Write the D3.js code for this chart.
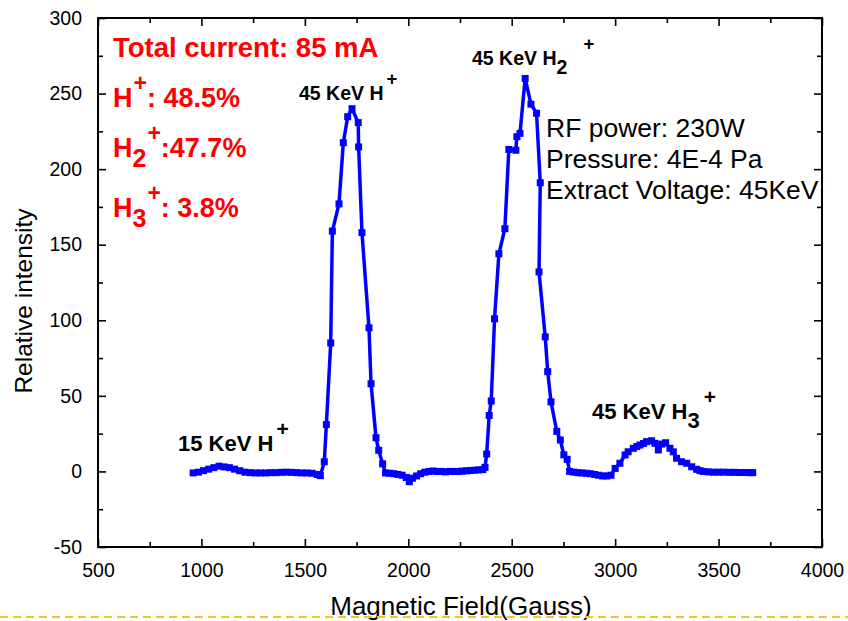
<!DOCTYPE html>
<html>
<head>
<meta charset="utf-8">
<script src="https://cdn.jsdelivr.net/npm/d3@7"></script>
<style>
  html, body { margin: 0; padding: 0; background: #fff; }
  svg { display: block; }
  text { font-family: Arial, "Liberation Sans", Helvetica, sans-serif; }
</style>
</head>
<body>
<svg id="chart" width="848" height="621"></svg>
<script>
// Magnetic field scan (Gauss) and measured relative beam intensity
const field = [
  960, 985, 1010, 1035, 1060, 1085, 1110, 1135, 1160, 1185, 1210, 1235, 1260, 1285, 1310,
  1335, 1360, 1385, 1410, 1435, 1460, 1485, 1510, 1535, 1560, 1575,
  1594, 1604, 1625, 1633, 1665, 1686, 1707, 1728, 1758, 1760, 1776, 1810, 1820, 1844, 1857, 1876,
  1890, 1910, 1930, 1950, 1970, 1990, 2005, 2020, 2040, 2060, 2080, 2100, 2120, 2140, 2160,
  2180, 2200, 2220, 2240, 2260, 2280, 2300, 2320, 2340, 2360, 2371,
  2379, 2391, 2401, 2417, 2438, 2467, 2486, 2520, 2525, 2540, 2565, 2593, 2620, 2638, 2632,
  2662, 2674, 2690, 2718, 2735, 2752, 2768, 2780,
  2800, 2820, 2840, 2860, 2880, 2900, 2920, 2940, 2960, 2980, 3000, 3023, 3048, 3063, 3088,
  3105, 3120, 3137, 3152, 3176, 3192, 3209, 3225, 3244, 3265, 3281, 3297, 3321, 3346, 3370,
  3394, 3410, 3426, 3450, 3475, 3500, 3525, 3550, 3575, 3600, 3625, 3650, 3665
];
const intensity = [
  -1, -0.5, 0.5, 1.5, 2.5, 3.5, 3, 2.5, 1.5, 0.5, -0.5, -0.8, -1, -1, -1,
  -0.8, -0.8, -0.6, -0.5, -0.6, -0.8, -1, -1, -1.2, -2, -2.8,
  6.4, 31, 85, 159, 177, 217.5, 234.7, 240, 230.8, 214.7, 158, 95, 58, 22.3, 14, 5,
  -1, -1.2, -1.5, -2, -2.5, -4, -6.8, -4.5, -3, -1.5, -0.5, 0, 0.3, 0, 0,
  -0.3, 0, 0, 0, 0.2, 0.4, 0.6, 0.8, 1, 1.2, 2.7,
  11.5, 37, 46.6, 101, 144, 160.6, 213, 212.5, 221.5, 223.7, 260, 243, 237, 191, 132,
  89, 66, 46, 26.5, 20.8, 11, 8, 0,
  -0.5, -0.8, -1, -1.2, -1.5, -2, -2.5, -3, -3, -2.5, 2, 5.4, 10.9, 13, 15.3,
  16.5, 17.5, 18.5, 19.7, 20.3, 18.6, 14.2, 18.1, 19, 15.3, 13, 8.7, 6.4, 5.4, 3.1,
  1.4, 0.5, 0, -0.3, -0.5, -0.5, -0.5, -0.6, -0.6, -0.7, -0.7, -0.8, -0.8
];

// Axis ranges and tick values
const xDomain = [500, 4000];
const yDomain = [-50, 300];
const xMajorTicks = [500, 1000, 1500, 2000, 2500, 3000, 3500, 4000];
const xMinorTicks = [750, 1250, 1750, 2250, 2750, 3250, 3750];
const yMajorTicks = [-50, 0, 50, 100, 150, 200, 250, 300];
const yMinorTicks = [-25, 25, 75, 125, 175, 225, 275];

// Text annotations
const xTitle = "Magnetic Field(Gauss)";
const yTitle = "Relative intensity";
const conditions = ["RF power: 230W", "Pressure: 4E-4 Pa", "Extract Voltage: 45KeV"];
const totalCurrent = "Total current: 85 mA";
const fractions = [
  { sub: "", value: ": 48.5%" },
  { sub: "2", value: ":47.7%" },
  { sub: "3", value: ": 3.8%" }
];
const peakLabels = [
  { text: "15 KeV H", sub: "", x: 178, y: 451, size: 22, plusDx: 3 },
  { text: "45 KeV H", sub: "", x: 299, y: 100, size: 19.5, plusDx: 3 },
  { text: "45 KeV H", sub: "2", x: 472, y: 65, size: 19.5, plusDx: 16 },
  { text: "45 KeV H", sub: "3", x: 592, y: 419, size: 22, plusDx: 4 }
];

const W = 848, H = 621;
const margin = { top: 18, right: 26, bottom: 74, left: 98 };
const iw = W - margin.left - margin.right;
const ih = H - margin.top - margin.bottom;

const svg = d3.select("#chart");
const g = svg.append("g").attr("transform", `translate(${margin.left},${margin.top})`);

const x = d3.scaleLinear().domain(xDomain).range([0, iw]);
const y = d3.scaleLinear().domain(yDomain).range([ih, 0]);
const plain = d => String(d);

function styleAxis(sel) {
  sel.select(".domain").remove();
  sel.selectAll(".tick line").attr("stroke", "#000").attr("stroke-width", 1.6);
  sel.selectAll(".tick text").attr("fill", "#000").style("font-size", "19.5px")
    .style("font-family", "Arial, 'Liberation Sans', sans-serif");
}

// Bottom axis with labels, ticks pointing inward
g.append("g").attr("transform", `translate(0,${ih})`)
  .call(d3.axisBottom(x).tickValues(xMajorTicks).tickSize(-8).tickPadding(16).tickFormat(plain))
  .call(styleAxis);
g.append("g").attr("transform", `translate(0,${ih})`)
  .call(d3.axisBottom(x).tickValues(xMinorTicks).tickSize(-5).tickFormat(""))
  .call(styleAxis);
// Top axis, ticks only
g.append("g")
  .call(d3.axisTop(x).tickValues(xMajorTicks).tickSize(-8).tickFormat(""))
  .call(styleAxis);
g.append("g")
  .call(d3.axisTop(x).tickValues(xMinorTicks).tickSize(-5).tickFormat(""))
  .call(styleAxis);
// Left axis with labels
g.append("g")
  .call(d3.axisLeft(y).tickValues(yMajorTicks).tickSize(-8).tickPadding(16).tickFormat(plain))
  .call(styleAxis);
g.append("g")
  .call(d3.axisLeft(y).tickValues(yMinorTicks).tickSize(-5).tickFormat(""))
  .call(styleAxis);
// Right axis, ticks only
g.append("g").attr("transform", `translate(${iw},0)`)
  .call(d3.axisRight(y).tickValues(yMajorTicks).tickSize(-8).tickFormat(""))
  .call(styleAxis);
g.append("g").attr("transform", `translate(${iw},0)`)
  .call(d3.axisRight(y).tickValues(yMinorTicks).tickSize(-5).tickFormat(""))
  .call(styleAxis);

// Plot frame
g.append("rect").attr("x", 0).attr("y", 0).attr("width", iw).attr("height", ih)
  .attr("fill", "none").attr("stroke", "#000").attr("stroke-width", 2);

// Data line and square markers
const pts = field.map((f, i) => [f, intensity[i]]);
const line = d3.line().x(d => x(d[0])).y(d => y(d[1]));
g.append("path").datum(pts).attr("d", line)
  .attr("fill", "none").attr("stroke", "#0000ff").attr("stroke-width", 3.5)
  .attr("stroke-linejoin", "round");
const ms = 7;
g.selectAll("rect.marker").data(pts).enter().append("rect")
  .attr("class", "marker")
  .attr("x", d => x(d[0]) - ms / 2).attr("y", d => y(d[1]) - ms / 2)
  .attr("width", ms).attr("height", ms).attr("fill", "#0000ff");

// Axis titles
svg.append("text").attr("x", 461).attr("y", 615).attr("text-anchor", "middle")
  .style("font-size", "26px").attr("fill", "#000").text(xTitle);
svg.append("text").attr("transform", "translate(32,301) rotate(-90)")
  .attr("text-anchor", "middle").style("font-size", "24.5px").attr("fill", "#000").text(yTitle);

// Dashed separator along the bottom edge
svg.append("line").attr("x1", 0).attr("x2", W).attr("y1", 617).attr("y2", 617)
  .attr("stroke", "#f4c22b").attr("stroke-width", 2).attr("stroke-dasharray", "8,5");

// Operating conditions
conditions.forEach((c, i) => {
  svg.append("text").attr("x", 546).attr("y", 137 + i * 31)
    .style("font-size", "26.5px").attr("fill", "#000").text(c);
});

// Beam composition (red)
svg.append("text").attr("x", 113).attr("y", 57)
  .style("font-size", "27.5px").style("font-weight", "bold").attr("fill", "#ff0000").text(totalCurrent);
fractions.forEach((f, i) => {
  const base = [107, 157, 217][i];
  const t = svg.append("text").attr("x", 113).attr("y", base)
    .style("font-size", "27px").style("font-weight", "bold").attr("fill", "#ff0000");
  t.append("tspan").text("H");
  let shift = 0;
  if (f.sub) {
    t.append("tspan").attr("dy", 10).style("font-size", "25px").text(f.sub);
    shift = 10;
  }
  t.append("tspan").attr("dy", -16 - shift).attr("dx", 1).style("font-size", "23px").text("+");
  t.append("tspan").attr("dy", 16).text(f.value);
});

// Peak labels
peakLabels.forEach(p => {
  const t = svg.append("text").attr("x", p.x).attr("y", p.y)
    .style("font-size", p.size + "px").style("font-weight", "bold").attr("fill", "#000");
  t.append("tspan").text(p.text);
  let shift = 0;
  if (p.sub) {
    t.append("tspan").attr("dy", 9).text(p.sub);
    shift = 9;
  }
  t.append("tspan").attr("dy", -15 - shift).attr("dx", p.plusDx)
    .style("font-size", (p.size - 1) + "px").text("+");
});
</script>
</body>
</html>
